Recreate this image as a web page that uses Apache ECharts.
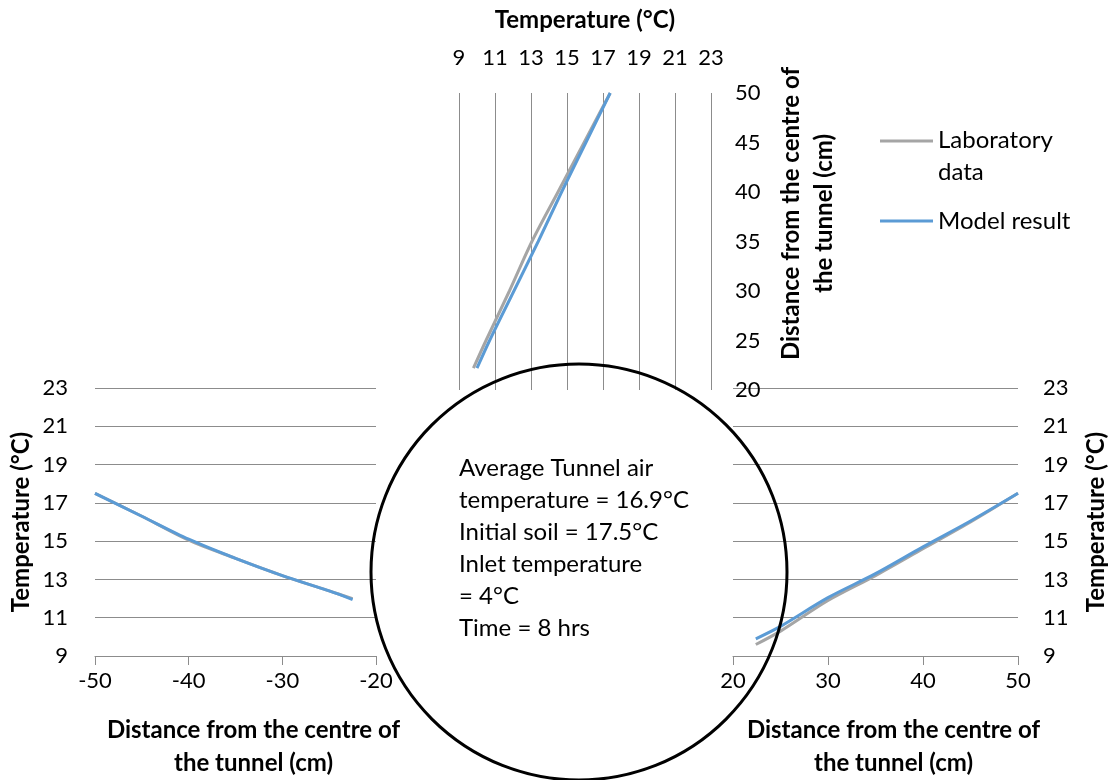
<!DOCTYPE html>
<html>
<head>
<meta charset="utf-8">
<script src="https://cdn.jsdelivr.net/npm/echarts@6/dist/echarts.min.js"></script>
<style>html,body{margin:0;background:#fff}#chart{width:1110px;height:780px}</style>
</head>
<body>
<div id="chart"></div>
<script>
// series names + colours (Excel style)
var seriesNames = ['Laboratory data', 'Model result'];
var seriesColors = ['#A5A5A5', '#5B9BD5'];

// left panel: distance (cm) vs temperature
var leftDist = [-50, -45, -40, -35, -30, -25, -22.5];
var leftLab = [17.5, 16.3, 15.05, 14.1, 13.2, 12.4, 12.0];
var leftModel = [17.5, 16.3, 15.1, 14.1, 13.2, 12.4, 11.95];

// right panel
var rightDist = [22.4, 25, 30, 35, 40, 45, 50];
var rightLab = [9.6, 10.3, 11.9, 13.2, 14.6, 16.0, 17.5];
var rightModel = [9.9, 10.55, 12.05, 13.3, 14.7, 16.05, 17.5];

// top panel: temperature on x, distance on y
var topDist = [22.2, 25, 30, 35, 40, 45, 50];
var topLab = [9.8, 10.5, 11.8, 13.05, 14.5, 15.95, 17.4];
var topModel = [10.0, 10.7, 12.05, 13.4, 14.7, 16.05, 17.4];

var noteLines = [
    'Average Tunnel air',
    'temperature = 16.9°C',
    'Initial soil = 17.5°C',
    'Inlet temperature',
    '= 4°C',
    'Time = 8 hrs'
];

var distName = 'Distance from the centre of\nthe tunnel (cm)';
var tempName = 'Temperature (°C)';

var FONT = 'Lato';
var GRID_COLOR = '#8c8c8c';

function pairs(xs, ys) {
    return xs.map(function (x, i) { return [x, ys[i]]; });
}

var labelStyle = { color: '#000', fontFamily: FONT, fontSize: 22 };
var nameStyle = { color: '#000', fontFamily: FONT, fontSize: 24, fontWeight: 'bold', lineHeight: 33 };

var myChart = echarts.init(document.getElementById('chart'));

var option = {
    animation: false,
    backgroundColor: '#fff',
    grid: [
        { left: 95, top: 388, width: 281, height: 268, outerBoundsMode: 'none' },
        { left: 733, top: 388, width: 285, height: 268, outerBoundsMode: 'none' },
        { left: 459, top: 93, width: 252, height: 297, outerBoundsMode: 'none' }
    ],
    xAxis: [
        {
            gridIndex: 0, type: 'value', min: -50, max: -20, interval: 10,
            name: distName, nameLocation: 'middle', nameGap: 58,
            nameTextStyle: Object.assign({ padding: [0, 0, 0, 36] }, nameStyle),
            axisLine: { show: true, lineStyle: { color: GRID_COLOR, width: 1 } },
            axisTick: { show: true, length: 9, lineStyle: { color: GRID_COLOR } },
            axisLabel: Object.assign({ margin: 14 }, labelStyle),
            splitLine: { show: false }
        },
        {
            gridIndex: 1, type: 'value', min: 20, max: 50, interval: 10,
            name: distName, nameLocation: 'middle', nameGap: 58,
            nameTextStyle: Object.assign({ padding: [0, 0, 0, 36] }, nameStyle),
            axisLine: { show: true, lineStyle: { color: GRID_COLOR, width: 1 } },
            axisTick: { show: true, length: 9, lineStyle: { color: GRID_COLOR } },
            axisLabel: Object.assign({ margin: 14 }, labelStyle),
            splitLine: { show: false }
        },
        {
            gridIndex: 2, type: 'value', position: 'top', min: 9, max: 23, interval: 2,
            name: tempName, nameLocation: 'middle', nameGap: 56,
            nameTextStyle: nameStyle,
            axisLine: { show: false },
            axisTick: { show: false },
            axisLabel: Object.assign({ margin: 24 }, labelStyle),
            splitLine: { show: true, lineStyle: { color: GRID_COLOR, width: 1 } }
        }
    ],
    yAxis: [
        {
            gridIndex: 0, type: 'value', min: 9, max: 23, interval: 2,
            name: tempName, nameLocation: 'middle', nameGap: 57,
            nameTextStyle: nameStyle,
            axisLine: { show: false },
            axisTick: { show: false },
            axisLabel: Object.assign({ margin: 27 }, labelStyle),
            splitLine: { show: true, lineStyle: { color: GRID_COLOR, width: 1 } }
        },
        {
            gridIndex: 1, type: 'value', position: 'right', min: 9, max: 23, interval: 2,
            name: tempName, nameLocation: 'middle', nameGap: 62,
            nameTextStyle: nameStyle,
            axisLine: { show: false },
            axisTick: { show: false },
            axisLabel: Object.assign({ margin: 25 }, labelStyle),
            splitLine: { show: true, lineStyle: { color: GRID_COLOR, width: 1 } }
        },
        {
            gridIndex: 2, type: 'value', position: 'right', min: 20, max: 50, interval: 5,
            name: distName, nameLocation: 'middle', nameGap: 64,
            nameTextStyle: Object.assign({ padding: [0, 0, 0, 56] }, nameStyle),
            axisLine: { show: false },
            axisTick: { show: false },
            axisLabel: Object.assign({ margin: 24 }, labelStyle),
            splitLine: { show: false }
        }
    ],
    series: [
        { name: seriesNames[0], type: 'line', xAxisIndex: 0, yAxisIndex: 0, data: pairs(leftDist, leftLab) },
        { name: seriesNames[1], type: 'line', xAxisIndex: 0, yAxisIndex: 0, data: pairs(leftDist, leftModel) },
        { name: seriesNames[0], type: 'line', xAxisIndex: 1, yAxisIndex: 1, data: pairs(rightDist, rightLab) },
        { name: seriesNames[1], type: 'line', xAxisIndex: 1, yAxisIndex: 1, data: pairs(rightDist, rightModel) },
        { name: seriesNames[0], type: 'line', xAxisIndex: 2, yAxisIndex: 2, data: pairs(topLab, topDist) },
        { name: seriesNames[1], type: 'line', xAxisIndex: 2, yAxisIndex: 2, data: pairs(topModel, topDist) }
    ].map(function (s, i) {
        var c = seriesColors[i % 2];
        s.smooth = 0.3;
        s.showSymbol = false;
        s.color = c;
        s.lineStyle = { color: c, width: 3 };
        s.z = 2 + (i % 2);
        return s;
    }),
    graphic: [
        // tunnel cross-section
        {
            type: 'circle', z: 100,
            shape: { cx: 579, cy: 572, r: 208 },
            style: { fill: null, stroke: '#000', lineWidth: 3 }
        },
        {
            type: 'text', z: 100, left: 459, top: 452,
            style: {
                text: noteLines.join('\n'),
                fill: '#000', font: '24px ' + FONT, lineHeight: 32
            }
        },
        // legend
        { type: 'line', shape: { x1: 880, y1: 141, x2: 933, y2: 141 }, style: { stroke: seriesColors[0], lineWidth: 3 } },
        { type: 'line', shape: { x1: 880, y1: 221, x2: 933, y2: 221 }, style: { stroke: seriesColors[1], lineWidth: 3 } },
        {
            type: 'text', left: 938, top: 124,
            style: { text: 'Laboratory\ndata', fill: '#000', font: '24px ' + FONT, lineHeight: 32 }
        },
        {
            type: 'text', left: 938, top: 205,
            style: { text: seriesNames[1], fill: '#000', font: '24px ' + FONT, lineHeight: 32 }
        }
    ]
};

option && myChart.setOption(option);
</script>
</body>
</html>
